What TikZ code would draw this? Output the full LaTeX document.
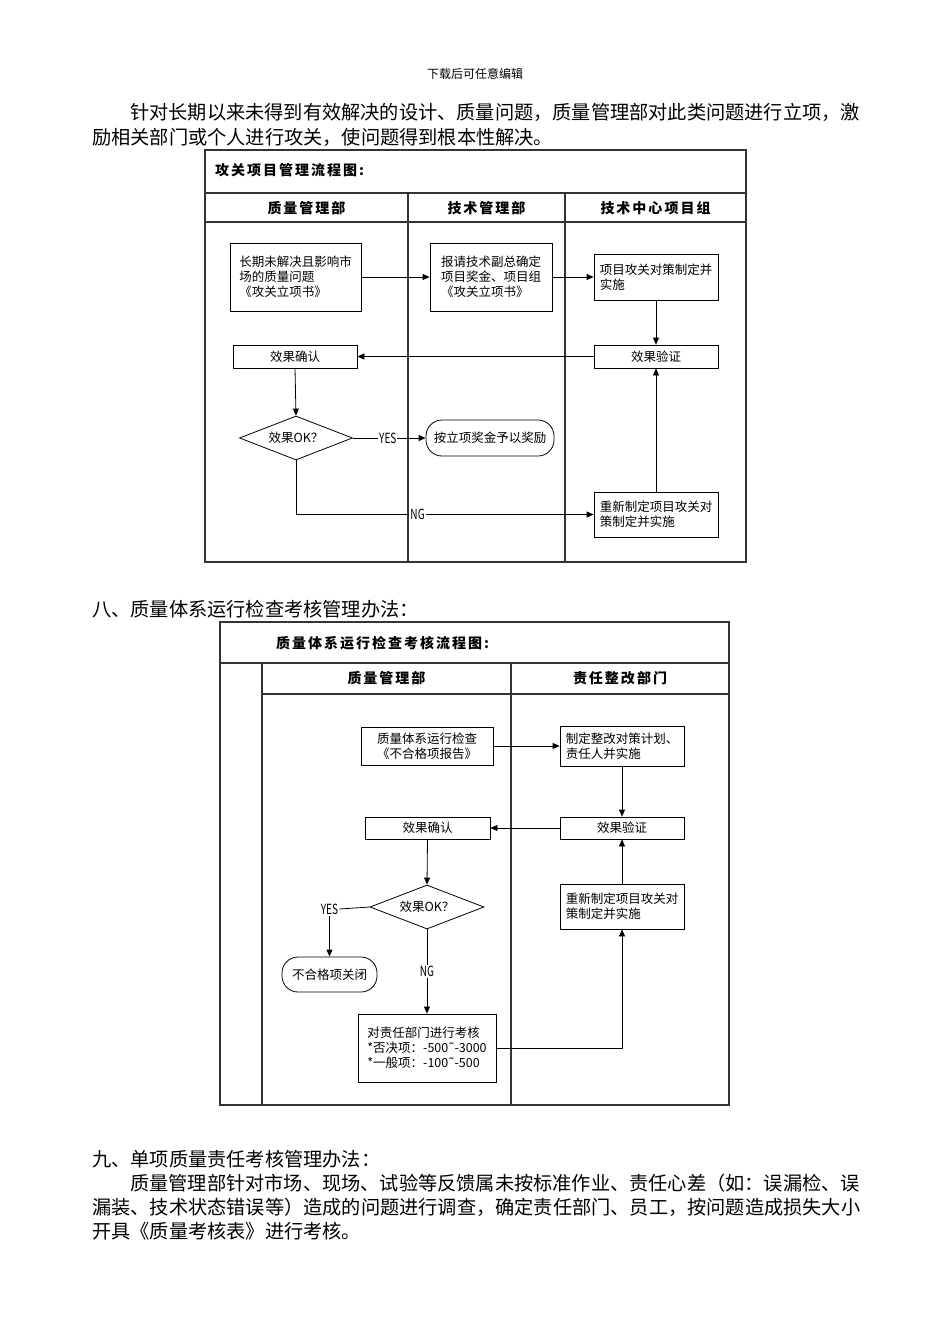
\documentclass[tikz,border=0pt]{standalone}
\usepackage{fontspec}
\setmainfont{Noto Sans CJK SC}
\newfontfamily\dejavu{DejaVu Sans}
\usetikzlibrary{arrows.meta,shapes.geometric}
\def\jline#1#2{\makebox[#1][s]{\jla#2\relax}}
\def\jla#1{#1\jlb}
\def\jlb#1{\ifx\relax#1\else\hfil#1\expandafter\jlb\fi}
\def\lsp#1{\lspa#1\relax}
\def\lspa#1{#1\lspb}
\def\lspb#1{\ifx\relax#1\else\kern2pt#1\expandafter\lspb\fi}
\newcommand\boxfont{\fontsize{12.5pt}{15pt}\selectfont}
\newcommand\bodyfont{\fontsize{19.2pt}{24pt}\selectfont}
\newcommand\tld{{\dejavu\char"02DC}}
\newcommand\narrow[1]{\scalebox{0.72}[1]{#1}}
\tikzset{
  frame/.style={line width=1.3pt, draw=black!80},
  box/.style={draw, line width=0.8pt, font=\boxfont, inner xsep=5pt, inner ysep=2pt},
  term/.style={box, rounded corners=16pt},
  dia/.style={draw, line width=0.8pt, shape=diamond, aspect=2.6, inner sep=0pt, font=\boxfont, minimum width=113pt, minimum height=44pt},
  arr/.style={-{Triangle[length=7pt,width=6pt]}, line width=0.8pt},
  conn/.style={line width=0.8pt},
  lbl/.style={fill=white, inner sep=1pt, font=\fontsize{14pt}{15pt}\selectfont},
  hdr/.style={font=\fontsize{14pt}{16pt}\selectfont\bfseries, inner sep=0pt},
  body/.style={font=\bodyfont, inner sep=0pt, anchor=base west}
}
\begin{document}
\begin{tikzpicture}[x=1pt,y=-1pt]
\fill[white] (0,0) rectangle (950,1344);
\useasboundingbox (0,0) rectangle (950,1344);

% ---- body text ----
\node[font=\fontsize{12pt}{14pt}\selectfont, inner sep=0pt] (dl) at (475,74) {下载后可任意编辑};
\node[body] (p1a) at (130,119.3) {\jline{728pt}{针对长期以来未得到有效解决的设计、质量问题，质量管理部对此类问题进行立项，激}};
\node[body] (p1b) at (92,144.3) {励相关部门或个人进行攻关，使问题得到根本性解决。};
\node[body] (s8) at (92,616.3) {八、质量体系运行检查考核管理办法：};
\node[body] (s9) at (92,1166.3) {九、单项质量责任考核管理办法：};
\node[body] (p3a) at (130,1190.3) {\jline{728pt}{质量管理部针对市场、现场、试验等反馈属未按标准作业、责任心差（如：误漏检、误}};
\node[body] (p3b) at (92,1214.3) {\jline{766pt}{漏装、技术状态错误等）造成的问题进行调查，确定责任部门、员工，按问题造成损失大小}};
\node[body] (p3c) at (92,1238.3) {开具《质量考核表》进行考核。};

% ---- chart 1 frame ----
\draw[frame] (205,150) rectangle (746,562);
\draw[frame] (205,193) -- (746,193);
\draw[frame] (205,222) -- (746,222);
\draw[frame] (408,193) -- (408,562);
\draw[frame] (565,193) -- (565,562);
\node[hdr, anchor=west] (t1) at (215,170) {\lsp{攻关项目管理流程图:}};
\node[hdr] (h11) at (306.5,208) {\lsp{质量管理部}};
\node[hdr] (h12) at (486.5,208) {\lsp{技术管理部}};
\node[hdr] (h13) at (655.5,208) {\lsp{技术中心项目组}};

% ---- chart 1 nodes ----
\node[box, align=left, minimum width=131pt, minimum height=68pt] (A) at (295.5,277) {长期未解决且影响市\\场的质量问题\\《攻关立项书》};
\node[box, align=left, minimum width=122pt, minimum height=68pt] (B) at (491,277) {报请技术副总确定\\项目奖金、项目组\\《攻关立项书》};
\node[box, align=left, minimum width=124pt, minimum height=46pt, inner xsep=3pt] (C) at (656,277) {项目攻关对策制定并\\实施\phantom{对策制定定并}};
\node[box, minimum width=124pt, minimum height=23pt] (D) at (656,356.5) {效果验证};
\node[box, minimum width=124pt, minimum height=23pt] (E) at (295,356.5) {效果确认};
\node[dia] (Q) at (296,438) {效果OK？};
\node[term, minimum width=128pt, minimum height=36pt] (T) at (490,438) {按立项奖金予以奖励};
\node[box, align=left, minimum width=124pt, minimum height=45pt, inner xsep=3pt] (F) at (656,514.5) {重新制定项目攻关对\\策制定并实施\phantom{攻关对}};

\draw[arr] (A.east) -- (B.west);
\draw[arr] (B.east) -- (C.west);
\draw[arr] (C.south) -- (D.north);
\draw[arr] (D.west) -- (E.east);
\draw[arr] (E.south) -- (Q.north);
\draw[arr] (Q.east) -- (T.west) node[lbl, pos=0.48] (yes1) {\narrow{YES}};
\draw[arr] (Q.south) |- (F.west) node[lbl, pos=0.69, anchor=west] (ng1) {\narrow{NG}};
\draw[arr] (F.north) -- (D.south);

% ---- chart 2 frame ----
\draw[frame] (220,622) rectangle (729,1105);
\draw[frame] (220,663) -- (729,663);
\draw[frame] (262,694) -- (729,694);
\draw[frame] (262,663) -- (262,1105);
\draw[frame] (511,663) -- (511,1105);
\node[hdr, anchor=west] (t2) at (276,643) {\lsp{质量体系运行检查考核流程图:}};
\node[hdr] (h21) at (386.5,678) {\lsp{质量管理部}};
\node[hdr] (h22) at (620,678) {\lsp{责任整改部门}};

% ---- chart 2 nodes ----
\node[box, align=center, minimum width=132pt, minimum height=38pt] (G) at (427,746) {质量体系运行检查\\《不合格项报告》};
\node[box, align=left, minimum width=124pt, minimum height=40pt, inner xsep=3pt] (H) at (622,746) {制定整改对策计划、\\责任人并实施\phantom{计划、}};
\node[box, minimum width=124pt, minimum height=22pt] (I) at (622,828) {效果验证};
\node[box, minimum width=125pt, minimum height=22pt] (J) at (427.5,828) {效果确认};
\node[dia, minimum width=114pt] (Q2) at (427,907) {效果OK？};
\node[lbl] (Y2) at (329.5,909) {\narrow{YES}};
\node[term, minimum width=95pt, minimum height=35pt, inner xsep=2pt] (T2) at (329.5,974.5) {不合格项关闭};
\node[box, align=left, minimum width=138pt, minimum height=68pt, inner xsep=3pt] (K) at (427,1048) {对责任部门进行考核\\*否决项：-500\tld-3000\\*一般项：-100\tld-500};
\node[box, align=left, minimum width=124pt, minimum height=45pt, inner xsep=3pt] (F2) at (622,906.5) {重新制定项目攻关对\\策制定并实施\phantom{攻关对}};

\draw[arr] (G.east) -- (H.west);
\draw[arr] (H.south) -- (I.north);
\draw[arr] (I.west) -- (J.east);
\draw[arr] (J.south) -- (Q2.north);
\draw[conn] (Q2.west) -- (Y2.east);
\draw[arr] (Y2.south) -- (T2.north);
\draw[arr] (Q2.south) -- (K.north) node[lbl, pos=0.5] (ng2) {\narrow{NG}};
\draw[arr] (K.east) -| (F2.south);
\draw[arr] (F2.north) -- (I.south);
\end{tikzpicture}
\end{document}
